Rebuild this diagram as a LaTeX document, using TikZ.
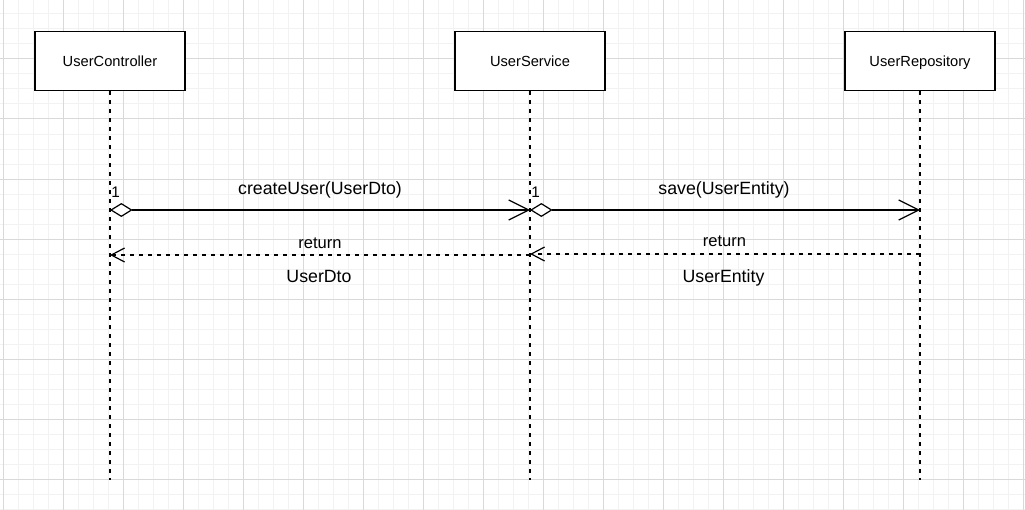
\documentclass[tikz,border=0pt]{standalone}
\usepackage{fontspec}
\setmainfont{Liberation Sans}
\usetikzlibrary{arrows.meta}
\begin{document}
\begin{tikzpicture}[x=0.75pt,y=-0.75pt,
  minorgrid/.style={gray!10, line width=0.75pt},
  majorgrid/.style={gray!30, line width=0.75pt},
  actor/.style={draw, line width=1pt, fill=white, minimum width=112.5pt,
    minimum height=44.25pt, inner sep=0pt, text height=7.9pt, text depth=0pt,
    font=\fontsize{11}{13}\selectfont},
  lifeline/.style={line width=0.9pt, dash pattern=on 3pt off 3.75pt},
  call/.style={line width=0.9pt,
    {Diamond[open, fill=white, length=17pt, width=10.5pt]}-{Straight Barb[length=15pt, width=15pt]}},
  reply/.style={line width=0.9pt, dash pattern=on 3pt off 3.75pt,
    -{Straight Barb[length=10pt, width=10.5pt]}},
  msglabel/.style={anchor=base, inner sep=0pt, font=\fontsize{13.3}{15}\selectfont},
  retlabel/.style={anchor=base, inner sep=0pt, font=\fontsize{12.4}{14}\selectfont},
  mult/.style={anchor=base west, inner sep=0pt, font=\fontsize{11.5}{13}\selectfont}]
\useasboundingbox (0,0) rectangle (1025,510);
\fill[white] (0,0) rectangle (1025,510);

% background grid
\foreach \x in {3,18,...,1023} \draw[minorgrid] (\x,0) -- (\x,510);
\foreach \y in {14,29,...,509} \draw[minorgrid] (0,\y) -- (1025,\y);
\foreach \x in {3,63,...,1023} \draw[majorgrid] (\x,0) -- (\x,510);
\foreach \y in {59,119,...,479} \draw[majorgrid] (0,\y) -- (1025,\y);

% participants
\node[actor] (uc) at (110,61) {UserController};
\node[actor] (us) at (530,61) {UserService};
\node[actor] (ur) at (920,61) {UserRepository};

% lifelines
\coordinate (ucEnd) at (110,480);
\coordinate (usEnd) at (530,480);
\coordinate (urEnd) at (920,480);
\draw[lifeline] (uc.south) -- (ucEnd);
\draw[lifeline] (us.south) -- (usEnd);
\draw[lifeline] (ur.south) -- (urEnd);

% message anchor points on the lifelines
\coordinate (ucCall) at (110,210);
\coordinate (usCall) at (530,210);
\coordinate (urCall) at (920,210);
\coordinate (ucRet) at (110,255);
\coordinate (usRet) at (530,255);
\coordinate (usRet2) at (530,254);
\coordinate (urRet) at (920,254);

% calls
\draw[call] (ucCall) -- (usCall);
\draw[call] (usCall) -- (urCall);

% returns
\draw[reply] (usRet) -- (ucRet);
\draw[reply] (urRet) -- (usRet2);

% labels
\node[mult] (m1) at (111,197) {1};
\node[mult] (m2) at (531,197) {1};
\node[msglabel] (l1) at (320,194.3) {createUser(UserDto)};
\node[msglabel] (l2) at (724,194.5) {save(UserEntity)};
\node[retlabel] (r1) at (320,248) {return};
\node[retlabel] (r2) at (724.5,246) {return};
\node[msglabel] (t1) at (319,282) {UserDto};
\node[msglabel] (t2) at (723.5,282.5) {UserEntity};
\end{tikzpicture}
\end{document}
